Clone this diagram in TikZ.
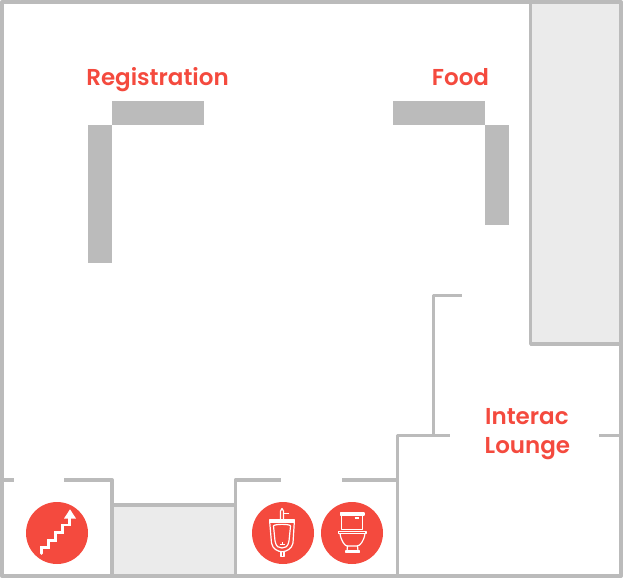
\documentclass[tikz,border=0pt]{standalone}
\usepackage{fontspec}
\setmainfont{Poppins}[UprightFont=*-SemiBold,BoldFont=*-SemiBold]
\definecolor{wallc}{HTML}{BBBBBB}
\definecolor{roomc}{HTML}{EBEBEB}
\definecolor{redc}{HTML}{F44A3E}
\tikzset{
  wall/.style={draw=wallc,line width=3.4pt,line join=round},
  outerwall/.style={draw=wallc,line width=4pt,line join=round},
  tablebox/.style={fill=wallc,draw=none},
  badge/.style={fill=redc,draw=none},
  label/.style={text=redc,font=\fontsize{23}{30}\selectfont,inner sep=0pt,align=left},
  ico/.style={draw=white,line width=1.2pt,line join=round,line cap=round},
}
\begin{document}
\begin{tikzpicture}[x=1pt,y=-1pt]
\useasboundingbox (0,0) rectangle (623,578);
% rooms
\fill[roomc] (530.7,1.5) rectangle (621,344);
\draw[wall] (530.7,1.5) -- (530.7,344) -- (621,344);
\fill[roomc] (112,505) rectangle (235.3,576);
\draw[wall] (112,505) -- (235.3,505);
% outer
\draw[outerwall] (2,2) rectangle (621,576);
% walls
\draw[wall] (2,480) -- (14,480);
\draw[wall] (64,480) -- (112,480) -- (112,576);
\draw[wall] (235.3,576) -- (235.3,480) -- (281,480);
\draw[wall] (342,480) -- (397.3,480);
\draw[wall] (397.3,576) -- (397.3,435.3) -- (450,435.3);
\draw[wall] (599,435.3) -- (621,435.3);
\draw[wall] (433.3,435.3) -- (433.3,295.3) -- (462,295.3);
% tables
\fill[tablebox] (112,101) rectangle (204,125);
\fill[tablebox] (88,125) rectangle (112,263);
\fill[tablebox] (393,101) rectangle (485,125);
\fill[tablebox] (485,125) rectangle (509,225);
% labels
\node[label,anchor=base] (reg) at (157.5,85) {Registration};
\node[label,anchor=base] (food) at (460.5,85) {Food};
\node[label,anchor=base west] (int) at (485,424) {Interac};
\node[label,anchor=base west] (lou) at (484.5,453.7) {Lounge};
% badges
\fill[badge] (57,533) circle (31);
\fill[badge] (283,533) circle (31);
\fill[badge] (352,533) circle (31);
% stairs
\draw[draw=white,line width=2.7pt,line join=miter,line cap=round] (41.7,553.5) -- (41.7,547.3) -- (48.3,547.3) -- (48.3,540.7) -- (55.7,540.7) -- (55.7,532.7) -- (62.7,532.7) -- (62.7,525) -- (69.7,525) -- (69.7,517);
\fill[white] (64,518.5) -- (76,518.5) -- (70,509.3) -- cycle;
% urinal
\draw[ico] (269.5,520) -- (294.5,520) -- (294.5,522) -- (269.5,522) -- cycle;
\draw[ico] (269.7,522) -- (271.5,543) .. controls (272.5,549) and (278,551.7) .. (282,551.7) .. controls (286,551.7) and (292,549) .. (293,543) -- (294.3,522);
\draw[ico] (273.5,526) .. controls (273.5,523.8) and (290.5,523.8) .. (290.5,526) -- (289,541) .. controls (288,547) and (285,548) .. (282,548) .. controls (279,548) and (276,547) .. (275,541) -- cycle;
\draw[ico] (280.5,520) -- (280.5,511) -- (282,508.5) -- (283.5,511) -- (283.5,520);
\draw[ico] (283.5,513.5) -- (288.5,513.5);
\draw[ico] (281,551.7) -- (281,556.5) -- (284,556.5) -- (284,551.7);
\draw[white,line width=.6pt] (280,544) -- (285,544) (282.5,542) -- (282.5,544);
% toilet
\draw[ico] (340.7,513) rectangle (364,515);
\draw[ico] (341.7,515) rectangle (362.7,529.3);
\draw[white,line width=1.2pt] (354.5,518) -- (359,518);
\draw[ico] (338.5,531.3) rectangle (366,533.5);
\draw[ico] (340,533.5) .. controls (341,541) and (345,546) .. (347,546) -- (357,546) .. controls (360,546) and (364,541) .. (365,533.5);
\draw[ico] (347.5,546) -- (347,551) -- (358,551) -- (357.5,546);
\draw[ico] (346,551) rectangle (359.5,552.7);
\end{tikzpicture}
\end{document}
